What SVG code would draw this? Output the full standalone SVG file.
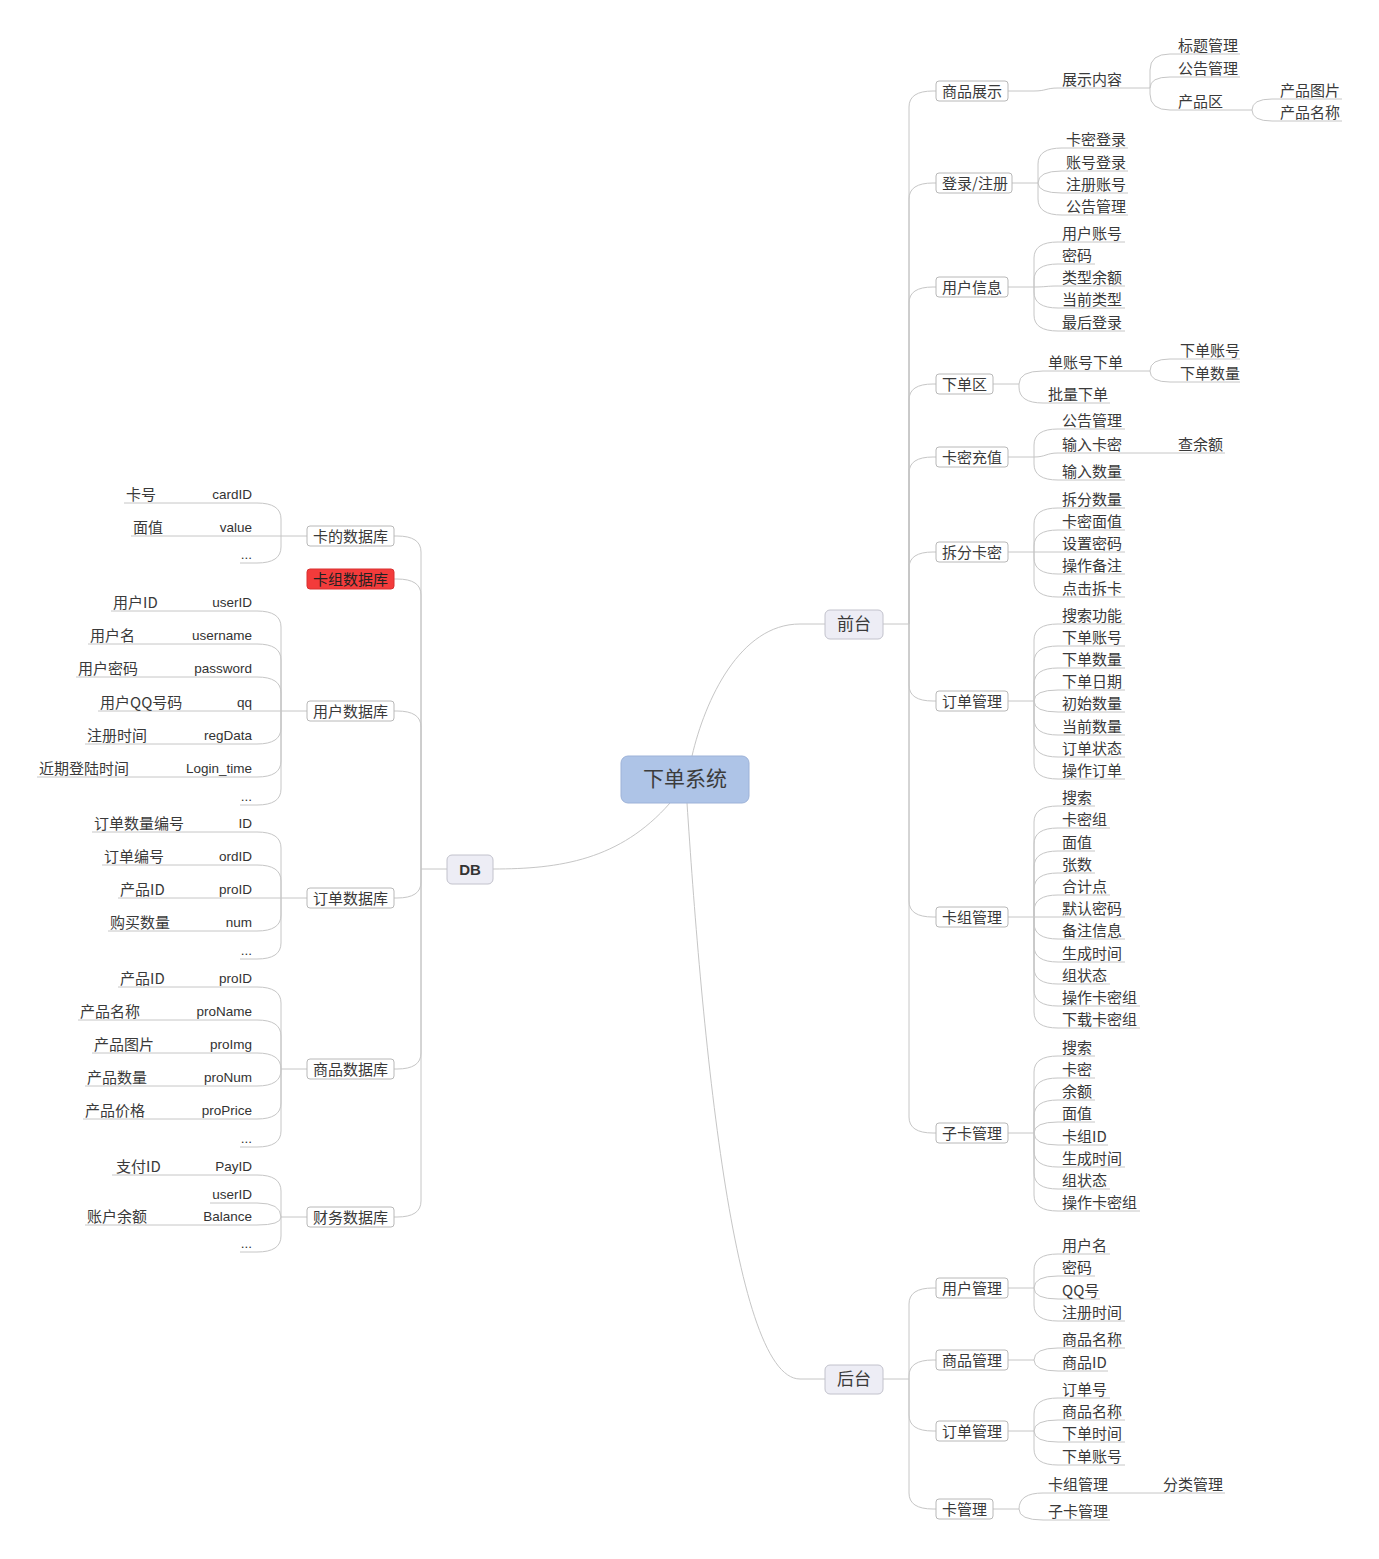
<svg xmlns="http://www.w3.org/2000/svg" width="1379" height="1559" viewBox="0 0 1379 1559">
<style>
.ln{fill:none;stroke:#c6c6c6;stroke-width:1}
.t{font-family:"Noto Sans CJK SC","Noto Sans",sans-serif;font-size:15px;fill:#3a3a3a}
.e{font-family:"Liberation Sans",Arial,sans-serif;font-size:13.5px;fill:#333}
.eR{font-family:"Liberation Sans",Arial,sans-serif;font-size:13.5px;fill:#333;text-anchor:end}
.b{fill:#fff;stroke:#b8b8b8;stroke-width:1}
.m{fill:#ededf5;stroke:#c2c2cc;stroke-width:1}
</style>
<rect width="1379" height="1559" fill="#fff"/>
<g id="connectors" class="ln">
<path d="M692,756 C705,700 740,624 800,624 L825,624"/>
<path d="M687,803 C700,1000 730,1379 800,1379 L825,1379"/>
<path d="M670,803 C620,860 560,869 493,869"/>
<path d="M883,624 L909,624"/>
<path d="M909,624 L909,107 Q909,91 933,91 L936,91"/>
<path d="M909,624 L909,199 Q909,183 933,183 L936,183"/>
<path d="M909,624 L909,303 Q909,287 933,287 L936,287"/>
<path d="M909,624 L909,400 Q909,384 933,384 L936,384"/>
<path d="M909,624 L909,473 Q909,457 933,457 L936,457"/>
<path d="M909,624 L909,568 Q909,552 933,552 L936,552"/>
<path d="M909,624 L909,685 Q909,701 933,701 L936,701"/>
<path d="M909,624 L909,901 Q909,917 933,917 L936,917"/>
<path d="M909,624 L909,1117 Q909,1133 933,1133 L936,1133"/>
<path d="M883,1379 L909,1379"/>
<path d="M909,1379 L909,1304 Q909,1288 933,1288 L936,1288"/>
<path d="M909,1379 L909,1376 Q909,1360 933,1360 L936,1360"/>
<path d="M909,1379 L909,1415 Q909,1431 933,1431 L936,1431"/>
<path d="M909,1379 L909,1493 Q909,1509 933,1509 L936,1509"/>
<path d="M1008,91 L1034,91 C1046,91 1046,88 1058,88 L1150,88"/>
<path d="M1150,88 L1150,70 Q1150,54 1170,54 L1240,54"/>
<path d="M1150,88 Q1150,77 1170,77 L1240,77"/>
<path d="M1150,88 L1150,94 Q1150,110 1170,110 L1252,110"/>
<path d="M1252,110 Q1252,99 1272,99 L1342,99"/>
<path d="M1252,110 Q1252,121 1272,121 L1342,121"/>
<path d="M1012,183 L1038,183"/>
<path d="M1038,183 L1038,164 Q1038,148 1062,148 L1128,148"/>
<path d="M1038,183 Q1038,171 1062,171 L1128,171"/>
<path d="M1038,183 Q1038,193 1062,193 L1128,193"/>
<path d="M1038,183 L1038,199 Q1038,215 1062,215 L1128,215"/>
<path d="M1008,287 L1034,287"/>
<path d="M1034,287 L1034,258 Q1034,242 1058,242 L1125,242"/>
<path d="M1034,287 L1034,280 Q1034,264 1058,264 L1095,264"/>
<path d="M1034,287 C1046,287 1046,286 1058,286 L1125,286"/>
<path d="M1034,287 L1034,292 Q1034,308 1058,308 L1125,308"/>
<path d="M1034,287 L1034,315 Q1034,331 1058,331 L1125,331"/>
<path d="M993,384 L1019,384"/>
<path d="M1019,384 Q1019,371 1043,371 L1150,371"/>
<path d="M1019,384 L1019,387 Q1019,403 1043,403 L1110,403"/>
<path d="M1150,371 Q1150,359 1170,359 L1240,359"/>
<path d="M1150,371 Q1150,382 1170,382 L1240,382"/>
<path d="M1008,457 L1034,457"/>
<path d="M1034,457 L1034,445 Q1034,429 1058,429 L1125,429"/>
<path d="M1034,457 C1046,457 1046,453 1058,453 L1225,453"/>
<path d="M1034,457 L1034,464 Q1034,480 1058,480 L1125,480"/>
<path d="M1008,552 L1034,552"/>
<path d="M1034,552 L1034,524 Q1034,508 1058,508 L1125,508"/>
<path d="M1034,552 L1034,546 Q1034,530 1058,530 L1125,530"/>
<path d="M1034,552 L1125,552"/>
<path d="M1034,552 L1034,558 Q1034,574 1058,574 L1125,574"/>
<path d="M1034,552 L1034,581 Q1034,597 1058,597 L1125,597"/>
<path d="M1008,701 L1034,701"/>
<path d="M1034,701 L1034,640 Q1034,624 1058,624 L1125,624"/>
<path d="M1034,701 L1034,662 Q1034,646 1058,646 L1125,646"/>
<path d="M1034,701 L1034,684 Q1034,668 1058,668 L1125,668"/>
<path d="M1034,701 Q1034,690 1058,690 L1125,690"/>
<path d="M1034,701 Q1034,712 1058,712 L1125,712"/>
<path d="M1034,701 L1034,719 Q1034,735 1058,735 L1125,735"/>
<path d="M1034,701 L1034,741 Q1034,757 1058,757 L1125,757"/>
<path d="M1034,701 L1034,763 Q1034,779 1058,779 L1125,779"/>
<path d="M1008,917 L1034,917"/>
<path d="M1034,917 L1034,822 Q1034,806 1058,806 L1095,806"/>
<path d="M1034,917 L1034,844 Q1034,828 1058,828 L1110,828"/>
<path d="M1034,917 L1034,867 Q1034,851 1058,851 L1095,851"/>
<path d="M1034,917 L1034,889 Q1034,873 1058,873 L1095,873"/>
<path d="M1034,917 L1034,911 Q1034,895 1058,895 L1110,895"/>
<path d="M1034,917 L1125,917"/>
<path d="M1034,917 L1034,923 Q1034,939 1058,939 L1125,939"/>
<path d="M1034,917 L1034,946 Q1034,962 1058,962 L1125,962"/>
<path d="M1034,917 L1034,968 Q1034,984 1058,984 L1110,984"/>
<path d="M1034,917 L1034,990 Q1034,1006 1058,1006 L1140,1006"/>
<path d="M1034,917 L1034,1012 Q1034,1028 1058,1028 L1140,1028"/>
<path d="M1008,1133 L1034,1133"/>
<path d="M1034,1133 L1034,1072 Q1034,1056 1058,1056 L1095,1056"/>
<path d="M1034,1133 L1034,1094 Q1034,1078 1058,1078 L1095,1078"/>
<path d="M1034,1133 L1034,1116 Q1034,1100 1058,1100 L1095,1100"/>
<path d="M1034,1133 Q1034,1122 1058,1122 L1095,1122"/>
<path d="M1034,1133 Q1034,1145 1058,1145 L1108,1145"/>
<path d="M1034,1133 L1034,1151 Q1034,1167 1058,1167 L1125,1167"/>
<path d="M1034,1133 L1034,1173 Q1034,1189 1058,1189 L1110,1189"/>
<path d="M1034,1133 L1034,1195 Q1034,1211 1058,1211 L1140,1211"/>
<path d="M1008,1288 L1034,1288"/>
<path d="M1034,1288 L1034,1270 Q1034,1254 1058,1254 L1110,1254"/>
<path d="M1034,1288 Q1034,1276 1058,1276 L1095,1276"/>
<path d="M1034,1288 Q1034,1299 1058,1299 L1100,1299"/>
<path d="M1034,1288 L1034,1305 Q1034,1321 1058,1321 L1125,1321"/>
<path d="M1008,1360 L1034,1360"/>
<path d="M1034,1360 Q1034,1348 1058,1348 L1125,1348"/>
<path d="M1034,1360 Q1034,1371 1058,1371 L1108,1371"/>
<path d="M1008,1431 L1034,1431"/>
<path d="M1034,1431 L1034,1414 Q1034,1398 1058,1398 L1110,1398"/>
<path d="M1034,1431 Q1034,1420 1058,1420 L1125,1420"/>
<path d="M1034,1431 Q1034,1442 1058,1442 L1125,1442"/>
<path d="M1034,1431 L1034,1449 Q1034,1465 1058,1465 L1125,1465"/>
<path d="M993,1509 L1019,1509"/>
<path d="M1019,1509 Q1019,1493 1043,1493 L1225,1493"/>
<path d="M1019,1509 Q1019,1520 1043,1520 L1110,1520"/>
<path d="M447,869 L421,869"/>
<path d="M421,869 L421,552 Q421,536 397,536 L394,536"/>
<path d="M421,869 L421,595 Q421,579 397,579 L394,579"/>
<path d="M421,869 L421,727 Q421,711 397,711 L394,711"/>
<path d="M421,869 L421,882 Q421,898 397,898 L394,898"/>
<path d="M421,869 L421,1053 Q421,1069 397,1069 L394,1069"/>
<path d="M421,869 L421,1201 Q421,1217 397,1217 L394,1217"/>
<path d="M307,536 L281,536"/>
<path d="M281,536 L281,519 Q281,503 257,503 L124,503"/>
<path d="M281,536 L131,536"/>
<path d="M281,536 L281,547 Q281,563 257,563 L240,563"/>
<path d="M307,711 L281,711"/>
<path d="M281,711 L281,627 Q281,611 257,611 L111,611"/>
<path d="M281,711 L281,660 Q281,644 257,644 L88,644"/>
<path d="M281,711 L281,693 Q281,677 257,677 L76,677"/>
<path d="M281,711 L98,711"/>
<path d="M281,711 L281,728 Q281,744 257,744 L85,744"/>
<path d="M281,711 L281,761 Q281,777 257,777 L37,777"/>
<path d="M281,711 L281,789 Q281,805 257,805 L240,805"/>
<path d="M307,898 L281,898"/>
<path d="M281,898 L281,848 Q281,832 257,832 L92,832"/>
<path d="M281,898 L281,881 Q281,865 257,865 L102,865"/>
<path d="M281,898 L118,898"/>
<path d="M281,898 L281,915 Q281,931 257,931 L108,931"/>
<path d="M281,898 L281,943 Q281,959 257,959 L240,959"/>
<path d="M307,1069 L281,1069"/>
<path d="M281,1069 L281,1003 Q281,987 257,987 L118,987"/>
<path d="M281,1069 L281,1036 Q281,1020 257,1020 L78,1020"/>
<path d="M281,1069 Q281,1053 257,1053 L92,1053"/>
<path d="M281,1069 L281,1070 Q281,1086 257,1086 L85,1086"/>
<path d="M281,1069 L281,1103 Q281,1119 257,1119 L83,1119"/>
<path d="M281,1069 L281,1131 Q281,1147 257,1147 L240,1147"/>
<path d="M307,1217 L281,1217"/>
<path d="M281,1217 L281,1191 Q281,1175 257,1175 L112,1175"/>
<path d="M281,1217 Q281,1203 257,1203 L210,1203"/>
<path d="M281,1217 Q281,1225 257,1225 L85,1225"/>
<path d="M281,1217 L281,1236 Q281,1252 257,1252 L240,1252"/>
</g>

<g id="root"><rect x="621" y="756" width="128" height="47" rx="7" fill="#aec4e7" stroke="#9db2d8"/><text x="685" y="786" text-anchor="middle" style="font-family:'Noto Sans CJK SC',sans-serif;font-size:21px;fill:#3c3c3c">下单系统</text></g>
<g id="qiantai"><rect x="825" y="610" width="58" height="29" rx="5" class="m"/><text x="854" y="630" text-anchor="middle" class="t" style="font-size:17px">前台</text></g>
<g id="houtai"><rect x="825" y="1365" width="58" height="29" rx="5" class="m"/><text x="854" y="1385" text-anchor="middle" class="t" style="font-size:17px">后台</text></g>
<g id="db"><rect x="447" y="855" width="46" height="29" rx="5" class="m"/><text x="470" y="875" text-anchor="middle" style="font-family:'Liberation Sans',Arial,sans-serif;font-size:15px;font-weight:bold;fill:#333">DB</text></g>

<g id="n-spzs"><rect x="936" y="81" width="72" height="20" rx="3" class="b"/><text x="942" y="96.5" class="t">商品展示</text></g>
<g id="n-dlzc"><rect x="936" y="173" width="76" height="20" rx="3" class="b"/><text x="942" y="188.5" class="t">登录/注册</text></g>
<g id="n-yhxx"><rect x="936" y="277" width="72" height="20" rx="3" class="b"/><text x="942" y="292.5" class="t">用户信息</text></g>
<g id="n-xdq"><rect x="936" y="374" width="57" height="20" rx="3" class="b"/><text x="942" y="389.5" class="t">下单区</text></g>
<g id="n-kmcz"><rect x="936" y="447" width="72" height="20" rx="3" class="b"/><text x="942" y="462.5" class="t">卡密充值</text></g>
<g id="n-cfkm"><rect x="936" y="542" width="72" height="20" rx="3" class="b"/><text x="942" y="557.5" class="t">拆分卡密</text></g>
<g id="n-ddgl"><rect x="936" y="691" width="72" height="20" rx="3" class="b"/><text x="942" y="706.5" class="t">订单管理</text></g>
<g id="n-kzgl"><rect x="936" y="907" width="72" height="20" rx="3" class="b"/><text x="942" y="922.5" class="t">卡组管理</text></g>
<g id="n-zkgl"><rect x="936" y="1123" width="72" height="20" rx="3" class="b"/><text x="942" y="1138.5" class="t">子卡管理</text></g>
<g id="n-yhgl"><rect x="936" y="1278" width="72" height="20" rx="3" class="b"/><text x="942" y="1293.5" class="t">用户管理</text></g>
<g id="n-spgl"><rect x="936" y="1350" width="72" height="20" rx="3" class="b"/><text x="942" y="1365.5" class="t">商品管理</text></g>
<g id="n-ddgl2"><rect x="936" y="1421" width="72" height="20" rx="3" class="b"/><text x="942" y="1436.5" class="t">订单管理</text></g>
<g id="n-kgl"><rect x="936" y="1499" width="57" height="20" rx="3" class="b"/><text x="942" y="1514.5" class="t">卡管理</text></g>

<g id="l1" class="t">
<text x="1062" y="85">展示内容</text>
<text x="1178" y="51">标题管理</text>
<text x="1178" y="74">公告管理</text>
<text x="1178" y="107">产品区</text>
<text x="1280" y="96">产品图片</text>
<text x="1280" y="118">产品名称</text>
</g>
<g id="l2" class="t">
<text x="1066" y="145">卡密登录</text>
<text x="1066" y="168">账号登录</text>
<text x="1066" y="190">注册账号</text>
<text x="1066" y="212">公告管理</text>
</g>
<g id="l3" class="t">
<text x="1062" y="239">用户账号</text>
<text x="1062" y="261">密码</text>
<text x="1062" y="283">类型余额</text>
<text x="1062" y="305">当前类型</text>
<text x="1062" y="328">最后登录</text>
</g>
<g id="l4" class="t">
<text x="1048" y="368">单账号下单</text>
<text x="1048" y="400">批量下单</text>
<text x="1180" y="356">下单账号</text>
<text x="1180" y="379">下单数量</text>
</g>
<g id="l5" class="t">
<text x="1062" y="426">公告管理</text>
<text x="1062" y="450">输入卡密</text>
<text x="1178" y="450">查余额</text>
<text x="1062" y="477">输入数量</text>
</g>
<g id="l6" class="t">
<text x="1062" y="505">拆分数量</text>
<text x="1062" y="527">卡密面值</text>
<text x="1062" y="549">设置密码</text>
<text x="1062" y="571">操作备注</text>
<text x="1062" y="594">点击拆卡</text>
</g>
<g id="l7" class="t">
<text x="1062" y="621">搜索功能</text>
<text x="1062" y="643">下单账号</text>
<text x="1062" y="665">下单数量</text>
<text x="1062" y="687">下单日期</text>
<text x="1062" y="709">初始数量</text>
<text x="1062" y="732">当前数量</text>
<text x="1062" y="754">订单状态</text>
<text x="1062" y="776">操作订单</text>
</g>
<g id="l8" class="t">
<text x="1062" y="803">搜索</text>
<text x="1062" y="825">卡密组</text>
<text x="1062" y="848">面值</text>
<text x="1062" y="870">张数</text>
<text x="1062" y="892">合计点</text>
<text x="1062" y="914">默认密码</text>
<text x="1062" y="936">备注信息</text>
<text x="1062" y="959">生成时间</text>
<text x="1062" y="981">组状态</text>
<text x="1062" y="1003">操作卡密组</text>
<text x="1062" y="1025">下载卡密组</text>
</g>
<g id="l9" class="t">
<text x="1062" y="1053">搜索</text>
<text x="1062" y="1075">卡密</text>
<text x="1062" y="1097">余额</text>
<text x="1062" y="1119">面值</text>
<text x="1062" y="1142">卡组ID</text>
<text x="1062" y="1164">生成时间</text>
<text x="1062" y="1186">组状态</text>
<text x="1062" y="1208">操作卡密组</text>
</g>
<g id="l10" class="t">
<text x="1062" y="1251">用户名</text>
<text x="1062" y="1273">密码</text>
<text x="1062" y="1296">QQ号</text>
<text x="1062" y="1318">注册时间</text>
</g>
<g id="l11" class="t">
<text x="1062" y="1345">商品名称</text>
<text x="1062" y="1368">商品ID</text>
</g>
<g id="l12" class="t">
<text x="1062" y="1395">订单号</text>
<text x="1062" y="1417">商品名称</text>
<text x="1062" y="1439">下单时间</text>
<text x="1062" y="1462">下单账号</text>
</g>
<g id="l13" class="t">
<text x="1048" y="1490">卡组管理</text>
<text x="1163" y="1490">分类管理</text>
<text x="1048" y="1517">子卡管理</text>
</g>

<g id="d-kdsjk"><rect x="307" y="526" width="87" height="20" rx="3" class="b"/><text x="313" y="541.5" class="t">卡的数据库</text></g>
<g id="d-kzsjk"><rect x="307" y="569" width="87" height="20" rx="3" fill="#f33b3b" stroke="#d93030"/><text x="313" y="584.5" class="t" style="fill:#222">卡组数据库</text></g>
<g id="d-yhsjk"><rect x="307" y="701" width="87" height="20" rx="3" class="b"/><text x="313" y="716.5" class="t">用户数据库</text></g>
<g id="d-ddsjk"><rect x="307" y="888" width="87" height="20" rx="3" class="b"/><text x="313" y="903.5" class="t">订单数据库</text></g>
<g id="d-spsjk"><rect x="307" y="1059" width="87" height="20" rx="3" class="b"/><text x="313" y="1074.5" class="t">商品数据库</text></g>
<g id="d-cwsjk"><rect x="307" y="1207" width="87" height="20" rx="3" class="b"/><text x="313" y="1222.5" class="t">财务数据库</text></g>

<g id="f1">
<text x="252" y="499" class="eR">cardID</text><text x="126" y="500" class="t">卡号</text>
<text x="252" y="532" class="eR">value</text><text x="133" y="533" class="t">面值</text>
<text x="252" y="559" class="eR">...</text>
</g>
<g id="f2">
<text x="252" y="607" class="eR">userID</text><text x="113" y="608" class="t">用户ID</text>
<text x="252" y="640" class="eR">username</text><text x="90" y="641" class="t">用户名</text>
<text x="252" y="673" class="eR">password</text><text x="78" y="674" class="t">用户密码</text>
<text x="252" y="707" class="eR">qq</text><text x="100" y="708" class="t">用户QQ号码</text>
<text x="252" y="740" class="eR">regData</text><text x="87" y="741" class="t">注册时间</text>
<text x="252" y="773" class="eR">Login_time</text><text x="39" y="774" class="t">近期登陆时间</text>
<text x="252" y="801" class="eR">...</text>
</g>
<g id="f3">
<text x="252" y="828" class="eR">ID</text><text x="94" y="829" class="t">订单数量编号</text>
<text x="252" y="861" class="eR">ordID</text><text x="104" y="862" class="t">订单编号</text>
<text x="252" y="894" class="eR">proID</text><text x="120" y="895" class="t">产品ID</text>
<text x="252" y="927" class="eR">num</text><text x="110" y="928" class="t">购买数量</text>
<text x="252" y="955" class="eR">...</text>
</g>
<g id="f4">
<text x="252" y="983" class="eR">proID</text><text x="120" y="984" class="t">产品ID</text>
<text x="252" y="1016" class="eR">proName</text><text x="80" y="1017" class="t">产品名称</text>
<text x="252" y="1049" class="eR">proImg</text><text x="94" y="1050" class="t">产品图片</text>
<text x="252" y="1082" class="eR">proNum</text><text x="87" y="1083" class="t">产品数量</text>
<text x="252" y="1115" class="eR">proPrice</text><text x="85" y="1116" class="t">产品价格</text>
<text x="252" y="1143" class="eR">...</text>
</g>
<g id="f5">
<text x="252" y="1171" class="eR">PayID</text><text x="116" y="1172" class="t">支付ID</text>
<text x="252" y="1199" class="eR">userID</text>
<text x="252" y="1221" class="eR">Balance</text><text x="87" y="1222" class="t">账户余额</text>
<text x="252" y="1248" class="eR">...</text>
</g>
</svg>
